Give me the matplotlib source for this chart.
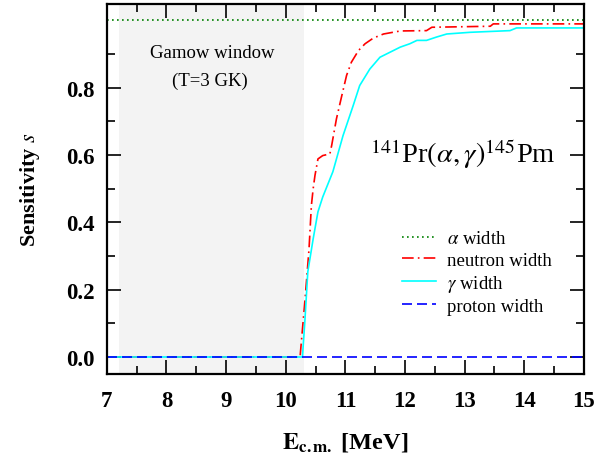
import numpy as np
import matplotlib
matplotlib.use("Agg")
import matplotlib.pyplot as plt
from matplotlib.ticker import MultipleLocator

plt.rcParams['font.family'] = ['Liberation Serif', 'DejaVu Serif']
plt.rcParams['mathtext.fontset'] = 'stix'

# energy grid [MeV]
e_alpha = [7.0, 15.0]
s_alpha = [1.0, 1.0]

e_neutron = [7.0, 10.24, 10.32, 10.39, 10.43, 10.46, 10.49, 10.54, 10.62, 10.74, 10.77,
             10.85, 10.94, 11.02, 11.10, 11.22, 11.33, 11.47, 11.64, 11.92, 12.36, 12.45,
             13.43, 13.48, 15.0]
s_neutron = [0.0, 0.0, 0.164, 0.32, 0.45, 0.50, 0.539, 0.588, 0.598, 0.603, 0.628,
             0.707, 0.776, 0.836, 0.875, 0.91, 0.93, 0.947, 0.959, 0.968, 0.969, 0.979,
             0.982, 0.989, 0.989]

e_gamma = [7.0, 10.28, 10.32, 10.37, 10.46, 10.54, 10.62, 10.79, 10.96, 11.13, 11.24,
           11.41, 11.58, 11.75, 11.92, 12.08, 12.20, 12.36, 12.53, 12.70, 13.09, 13.76,
           13.87, 15.0]
s_gamma = [0.0, 0.0, 0.105, 0.253, 0.351, 0.431, 0.475, 0.55, 0.657, 0.746, 0.806,
           0.855, 0.89, 0.905, 0.92, 0.93, 0.94, 0.94, 0.95, 0.959, 0.964, 0.969,
           0.977, 0.977]

e_proton = [7.0, 15.0]
s_proton = [0.0, 0.0]

gamow_lo, gamow_hi = 7.2, 10.3

fig = plt.figure(figsize=(6.07, 4.56), dpi=100)
ax = fig.add_axes([0.176, 0.178, 0.786, 0.811])

ax.axvspan(gamow_lo, gamow_hi, color='#f3f3f3', zorder=0, lw=0)

ax.plot(e_alpha, s_alpha, color='green', ls=(0, (1, 2)), lw=1.2, label=r'$\alpha$ width')
ax.plot(e_neutron, s_neutron, color='red', ls=(0, (7, 2.5, 1, 2.5)), lw=1.2, label='neutron width')
ax.plot(e_gamma, s_gamma, color='cyan', ls='-', lw=1.2, label=r'$\gamma$ width')
ax.plot(e_proton, s_proton, color='blue', ls=(0, (6, 3)), lw=1.2, label='proton width')

ax.set_xlim(7, 15)
ax.set_ylim(-0.05, 1.048)
ax.xaxis.set_major_locator(MultipleLocator(1))
ax.xaxis.set_minor_locator(MultipleLocator(0.5))
ax.set_yticks([0.0, 0.2, 0.4, 0.6, 0.8])
ax.set_yticks([0.1, 0.3, 0.5, 0.7, 0.9], minor=True)
ax.set_yticklabels(['0.0', '0.2', '0.4', '0.6', '0.8'])
ax.tick_params(which='both', direction='in', top=True, right=True, width=1.2)
ax.tick_params(which='major', length=10, labelsize=16.5)
ax.tick_params(axis='x', which='major', pad=12)
ax.tick_params(axis='y', which='major', pad=9)
ax.tick_params(which='minor', length=6)
for lbl in ax.get_xticklabels() + ax.get_yticklabels():
    lbl.set_fontweight('bold')
for sp in ax.spines.values():
    sp.set_linewidth(1.6)

ax.set_xlabel(r'$\mathbf{E}_{\mathbf{c.m.}}$ [MeV]', fontsize=17.5, fontweight='bold', labelpad=13)
ax.set_ylabel(r'Sensitivity $s$', fontsize=16, fontweight='bold', labelpad=17)

ax.text(8.76, 0.905, 'Gamow window', fontsize=13.5, ha='center', va='center')
ax.text(8.72, 0.822, '(T=3 GK)', fontsize=13.5, ha='center', va='center')
ax.text(12.97, 0.58, r'$^{141}$Pr$(\alpha,\gamma)^{145}$Pm', fontsize=20.5, ha='center', va='baseline')

ax.legend(loc='lower left', bbox_to_anchor=(0.6, 0.134), frameon=False, fontsize=13.5,
          handlelength=1.8, labelspacing=0.22, handletextpad=0.6, borderpad=0)

fig.savefig('out.png', dpi=100)
